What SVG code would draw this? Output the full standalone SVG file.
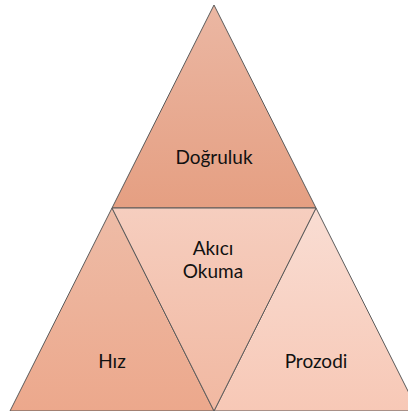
<svg xmlns="http://www.w3.org/2000/svg" width="408" height="411" viewBox="0 0 408 411">
<defs>
<linearGradient id="gTop" x1="0" y1="0" x2="0" y2="1"><stop offset="0" stop-color="#EBB7A3"/><stop offset="1" stop-color="#E59F82"/></linearGradient>
<linearGradient id="gLeft" x1="0" y1="0" x2="0" y2="1"><stop offset="0" stop-color="#EEBCA7"/><stop offset="1" stop-color="#ECA88C"/></linearGradient>
<linearGradient id="gMid" x1="0" y1="0" x2="0" y2="1"><stop offset="0" stop-color="#F6CEBF"/><stop offset="1" stop-color="#F1B8A1"/></linearGradient>
<linearGradient id="gRight" x1="0" y1="0" x2="0" y2="1"><stop offset="0" stop-color="#F9DDD3"/><stop offset="1" stop-color="#F7C8B6"/></linearGradient>
</defs>
<style>
.tri{stroke:#5b5b5b;stroke-width:1;stroke-linejoin:miter}
text{font-family:Lato,"Open Sans","Liberation Sans",sans-serif;font-size:19px;fill:#111;text-anchor:middle}
</style>
<g id="top"><polygon class="tri" fill="url(#gTop)" points="214,5 316,208 112,208"/><text x="214" y="164">Doğruluk</text></g>
<g id="left"><polygon class="tri" fill="url(#gLeft)" points="112,208 214,411 10,411"/><text x="112" y="368">Hız</text></g>
<g id="right"><polygon class="tri" fill="url(#gRight)" points="316,208 418,411 214,411"/><text x="316" y="368">Prozodi</text></g>
<g id="middle"><polygon class="tri" fill="url(#gMid)" points="112,208 316,208 214,411"/><text x="213" y="255">Akıcı</text><text x="213" y="278">Okuma</text></g>
<g id="connectors"/>
</svg>
